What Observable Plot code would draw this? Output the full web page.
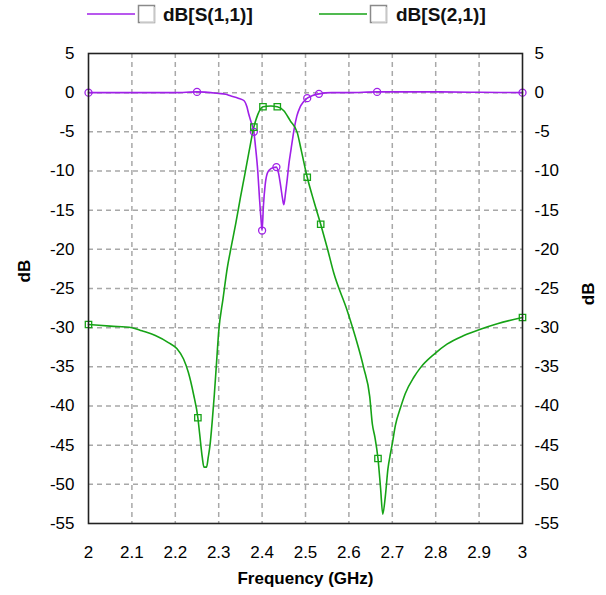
<!DOCTYPE html>
<html>
<head>
<meta charset="utf-8">
<script src="https://cdn.jsdelivr.net/npm/d3@7"></script>
<script src="https://cdn.jsdelivr.net/npm/@observablehq/plot@0.6"></script>
<style>
  html, body { margin: 0; padding: 0; background: #fff; }
  #legend { height: 36px; }
  #chart svg { display: block; }
</style>
</head>
<body>
<div id="legend"></div>
<div id="chart"></div>
<script>
// ---- data ----
const freq11 = [2.00, 2.05, 2.10, 2.15, 2.20, 2.25, 2.30, 2.316, 2.327, 2.345, 2.358, 2.365, 2.369, 2.375, 2.381,
  2.385, 2.390, 2.394, 2.398, 2.400, 2.403, 2.407, 2.412, 2.418, 2.425, 2.433, 2.438, 2.443, 2.447, 2.450,
  2.454, 2.458, 2.462, 2.466, 2.470, 2.474, 2.480, 2.487, 2.495, 2.504, 2.515, 2.531, 2.56, 2.60, 2.665, 2.70, 2.80, 2.90, 3.00];
const s11 = [0.0, 0.0, 0.0, 0.0, 0.0, 0.1, -0.1, -0.2, -0.4, -0.7, -1.0, -1.8, -2.7, -3.8, -5.0,
  -7.0, -10.0, -13.5, -16.5, -17.6, -14.5, -11.8, -10.3, -9.8, -9.6, -9.5, -10.3, -12.0, -13.5, -14.3,
  -12.8, -11.0, -9.0, -7.5, -6.0, -4.6, -3.0, -1.9, -1.2, -0.7, -0.4, -0.15, 0.0, 0.0, 0.1, 0.1, 0.1, 0.05, 0.0];
const s11MarkerFreq = [2.00, 2.25, 2.381, 2.400, 2.433, 2.504, 2.531, 2.665, 3.00];

const freq21 = [2.00, 2.05, 2.10, 2.123, 2.154, 2.184, 2.204, 2.219, 2.230, 2.242, 2.252, 2.256, 2.262, 2.266, 2.272,
  2.276, 2.280, 2.285, 2.290, 2.295, 2.30, 2.31, 2.32, 2.327, 2.34, 2.35, 2.36, 2.37, 2.381, 2.39, 2.402, 2.42, 2.435,
  2.45, 2.465, 2.481, 2.49, 2.504, 2.52, 2.535, 2.55, 2.565, 2.596, 2.615, 2.634, 2.648, 2.654, 2.660, 2.667, 2.673, 2.678,
  2.684, 2.690, 2.696, 2.700, 2.707, 2.719, 2.730, 2.75, 2.765, 2.796, 2.826, 2.865, 2.903, 2.942, 3.00];
const s21 = [-29.6, -29.8, -30.0, -30.4, -31.0, -31.9, -32.7, -34.0, -35.7, -38.5, -41.5, -43.5, -46.5, -47.8, -47.8,
  -46.5, -45.0, -42.0, -38.5, -34.5, -30.5, -26.3, -22.3, -20.2, -16.5, -13.4, -10.5, -7.5, -4.4, -2.8, -1.8, -1.7, -1.8,
  -2.3, -3.6, -5.1, -7.3, -10.8, -14.0, -16.8, -19.8, -23.0, -27.8, -31.2, -35.1, -38.8, -42.3, -44.0, -46.7, -50.5, -53.8,
  -51.5, -48.0, -46.0, -44.8, -42.5, -40.2, -38.4, -36.3, -35.1, -33.4, -32.1, -31.0, -30.2, -29.5, -28.7];
const s21MarkerFreq = [2.00, 2.252, 2.381, 2.402, 2.435, 2.504, 2.535, 2.667, 3.00];

const xTicks = [2.0, 2.1, 2.2, 2.3, 2.4, 2.5, 2.6, 2.7, 2.8, 2.9, 3.0];
const yTicks = [5, 0, -5, -10, -15, -20, -25, -30, -35, -40, -45, -50, -55];
const seriesNames = ["dB[S(1,1)]", "dB[S(2,1)]"];
const xLabel = "Frequency (GHz)";
const yLabel = "dB";

// ---- styles ----
const C11 = "#a020e8";
const C21 = "#16a316";
const FONT = "'Liberation Sans', Arial, sans-serif";

const d11 = freq11.map((f, i) => ({f, v: s11[i]}));
const d21 = freq21.map((f, i) => ({f, v: s21[i]}));
const m11 = d11.filter(d => s11MarkerFreq.includes(d.f));
const m21 = d21.filter(d => s21MarkerFreq.includes(d.f));

const fmtX = d => String(+d.toFixed(1));
const fmtY = d => String(d);

const chart = Plot.plot({
  width: 606,
  height: 559,
  marginLeft: 88,
  marginRight: 84,
  marginTop: 17,
  marginBottom: 72,
  style: {fontFamily: FONT, fontSize: "17px", color: "#000", background: "#fff"},
  x: {domain: [2, 3]},
  y: {domain: [-55, 5]},
  marks: [
    Plot.gridX(xTicks.slice(1, -1), {stroke: "#a8a8a8", strokeOpacity: 1, strokeWidth: 1.5, strokeDasharray: "5,4"}),
    Plot.gridY(yTicks.slice(1, -1), {stroke: "#a8a8a8", strokeOpacity: 1, strokeWidth: 1.5, strokeDasharray: "5,4"}),
    Plot.axisX(xTicks, {tickSize: 0, tickPadding: 22, tickFormat: fmtX, label: null, fontSize: 17}),
    Plot.axisY(yTicks, {anchor: "left", tickSize: 0, tickPadding: 14, tickFormat: fmtY, label: null, fontSize: 17}),
    Plot.axisY(yTicks, {anchor: "right", tickSize: 0, tickPadding: 12, tickFormat: fmtY, label: null, fontSize: 17}),
    Plot.text([xLabel], {frameAnchor: "bottom", dy: 55, lineAnchor: "middle", fontWeight: "bold", fontSize: 17}),
    Plot.text([yLabel], {frameAnchor: "left", dx: -64, dy: -6, rotate: -90, lineAnchor: "middle", fontWeight: "bold", fontSize: 17}),
    Plot.text([yLabel], {frameAnchor: "right", dx: 66, dy: -6, rotate: -90, lineAnchor: "middle", fontWeight: "bold", fontSize: 17}),
    Plot.line(d11, {x: "f", y: "v", stroke: C11, strokeWidth: 1.6, curve: "monotone-x"}),
    Plot.line(d21, {x: "f", y: "v", stroke: C21, strokeWidth: 1.6, curve: "monotone-x"}),
    Plot.dot(m11, {x: "f", y: "v", r: 3.5, stroke: C11, strokeWidth: 1.3, fill: "none"}),
    Plot.dot(m21, {x: "f", y: "v", symbol: "square", r: 3.6, stroke: C21, strokeWidth: 1.3, fill: "none"}),
    Plot.frame({stroke: "#222", strokeWidth: 1.6})
  ]
});
document.getElementById("chart").appendChild(chart);

// ---- legend ----
const lg = d3.select("#legend").append("svg").attr("width", 606).attr("height", 36);
const items = [
  {name: seriesNames[0], color: C11, x0: 87, x1: 135, bx: 138, tx: 163},
  {name: seriesNames[1], color: C21, x0: 319, x1: 367, bx: 370, tx: 396}
];
for (const it of items) {
  lg.append("line").attr("x1", it.x0).attr("x2", it.x1).attr("y1", 14).attr("y2", 14)
    .attr("stroke", it.color).attr("stroke-width", 1.5);
  lg.append("rect").attr("x", it.bx + 0.5).attr("y", 5.5).attr("width", 16).attr("height", 17)
    .attr("fill", "#fff").attr("stroke", "#8a8a8a").attr("stroke-width", 1.5);
  lg.append("path").attr("d", `M${it.bx + 2},${22} H${it.bx + 16} V${7}`)
    .attr("fill", "none").attr("stroke", "#dcdcdc").attr("stroke-width", 1.5);
  lg.append("text").attr("x", it.tx).attr("y", 21).text(it.name)
    .attr("font-family", FONT).attr("font-size", 19).attr("font-weight", "bold").attr("fill", "#111");
}
</script>
</body>
</html>
